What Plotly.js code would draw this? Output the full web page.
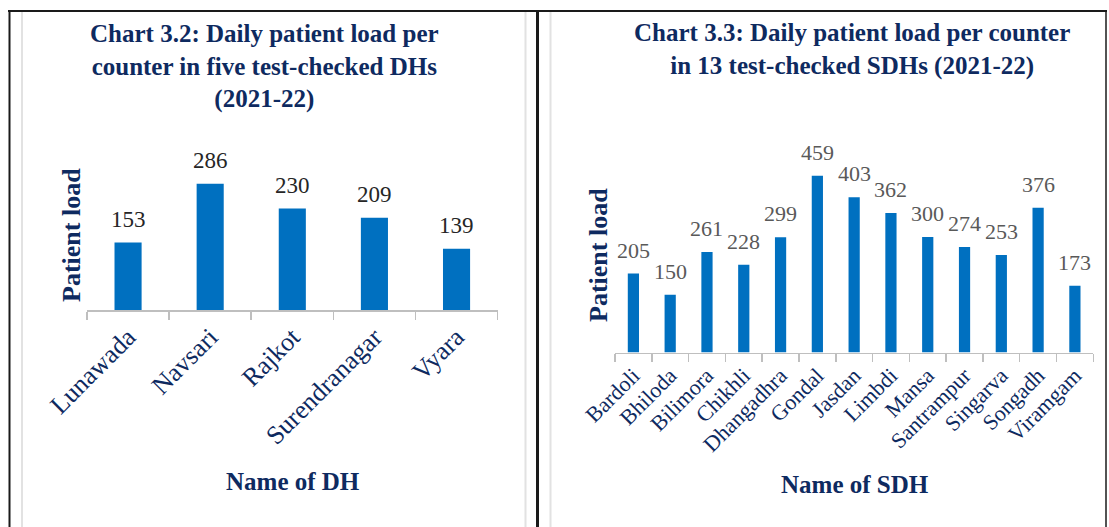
<!DOCTYPE html>
<html>
<head>
<meta charset="utf-8">
<script src="https://cdn.plot.ly/plotly-3.0.1.min.js"></script>
<style>
  html, body { margin: 0; padding: 0; background: #fff; }
  #chart { width: 1109px; height: 527px; }
</style>
</head>
<body>
<div id="chart"></div>
<script>
// Chart 3.2 — district hospitals
const dhNames = ['Lunawada', 'Navsari', 'Rajkot', 'Surendranagar', 'Vyara'];
const dhLoad = [153, 286, 230, 209, 139];

// Chart 3.3 — sub-district hospitals
const sdhNames = ['Bardoli', 'Bhiloda', 'Bilimora', 'Chikhli', 'Dhangadhra', 'Gondal', 'Jasdan',
  'Limbdi', 'Mansa', 'Santrampur', 'Singarva', 'Songadh', 'Viramgam'];
const sdhLoad = [205, 150, 261, 228, 299, 459, 403, 362, 300, 274, 253, 376, 173];

const W = 1109, H = 527;
const px = (x) => x / W;            // pixel -> paper x
const py = (y) => 1 - y / H;        // pixel -> paper y

const SERIF = "'Liberation Serif', 'Times New Roman', serif";
const NAVY = '#0e2a60';
const BAR = '#0070c0';
const AXIS = '#bfbfbf';

function barTrace(names, vals, xa, ya, w) {
  return { type: 'bar', x: names, y: vals, xaxis: xa, yaxis: ya, width: w,
    marker: { color: BAR, line: { width: 0 } }, hoverinfo: 'skip', showlegend: false };
}

function valueLabels(names, vals, xref, yref, size, color) {
  return names.map((n, i) => ({
    x: n, y: vals[i], xref, yref, text: String(vals[i]), showarrow: false,
    yanchor: 'bottom', yshift: 9, font: { family: SERIF, size, color },
  }));
}

function catAxis(domain, n, size) {
  return {
    domain, type: 'category', range: [-0.5, n - 0.5],
    showline: true, linecolor: AXIS, linewidth: 1.5,
    ticks: 'outside', tickson: 'boundaries', ticklen: 8, tickcolor: AXIS, tickwidth: 1.5,
    tickangle: -45, tickfont: { family: SERIF, size, color: NAVY },
    showgrid: false, zeroline: false, fixedrange: true,
  };
}

function valAxis(domain, max) {
  return { domain, range: [0, max], showline: false, showticklabels: false, ticks: '',
    showgrid: false, zeroline: false, fixedrange: true };
}

const texts = [
  // chart titles
  { x: px(264), y: py(66), text: '<b>Chart 3.2: Daily patient load per<br>counter in five test-checked DHs<br>(2021-22)</b>',
    size: 25 },
  { x: px(852), y: py(49), text: '<b>Chart 3.3: Daily patient load per counter<br>in 13 test-checked SDHs (2021-22)</b>',
    size: 25 },
  // axis titles
  { x: px(293), y: py(481), text: '<b>Name of DH</b>', size: 25 },
  { x: px(855), y: py(484), text: '<b>Name of SDH</b>', size: 25 },
  { x: px(71), y: py(235), text: '<b>Patient load</b>', size: 26, angle: -90 },
  { x: px(598), y: py(255), text: '<b>Patient load</b>', size: 26, angle: -90 },
].map((t) => ({ xref: 'paper', yref: 'paper', x: t.x, y: t.y, text: t.text, showarrow: false,
  xanchor: 'center', yanchor: 'middle', textangle: t.angle || 0,
  font: { family: SERIF, size: t.size, color: NAVY } }));

// table frame + chart borders
const line = (x0, y0, x1, y1, color, width) => ({ type: 'line', xref: 'paper', yref: 'paper',
  x0: px(x0), y0: py(y0), x1: px(x1), y1: py(y1), line: { color, width } });
const shapes = [
  line(22, 12, 22, 527, '#e2e2e2', 2),
  line(525.5, 12, 525.5, 527, '#e2e2e2', 2),
  line(550.5, 12, 550.5, 527, '#e2e2e2', 2),
  line(8, 11, 1107, 11, '#1a1a1a', 2),
  line(9.5, 10, 9.5, 527, '#1a1a1a', 2),
  line(537.5, 10, 537.5, 527, '#1a1a1a', 3),
  line(1106, 10, 1106, 527, '#1a1a1a', 1.5),
];

const layout = {
  width: W, height: H, margin: { l: 0, r: 0, t: 0, b: 0 },
  paper_bgcolor: '#fff', plot_bgcolor: 'rgba(0,0,0,0)',
  xaxis: { ...catAxis([px(87), px(497.6)], dhNames.length, 26), anchor: 'y' },
  yaxis: { ...valAxis([py(310), py(160)], 340), anchor: 'x' },
  xaxis2: { ...catAxis([px(615), px(1093.3)], sdhNames.length, 22), anchor: 'y2' },
  yaxis2: { ...valAxis([py(352.5), py(158)], 505), anchor: 'x2' },
  annotations: [
    ...valueLabels(dhNames, dhLoad, 'x', 'y', 23, '#262626'),
    ...valueLabels(sdhNames, sdhLoad, 'x2', 'y2', 22, '#595959'),
    ...texts,
  ],
  shapes,
  showlegend: false,
};

Plotly.newPlot('chart', [
  barTrace(dhNames, dhLoad, 'x', 'y', 0.33),
  barTrace(sdhNames, sdhLoad, 'x2', 'y2', 0.305),
], layout, { staticPlot: true, displayModeBar: false });
</script>
</body>
</html>
